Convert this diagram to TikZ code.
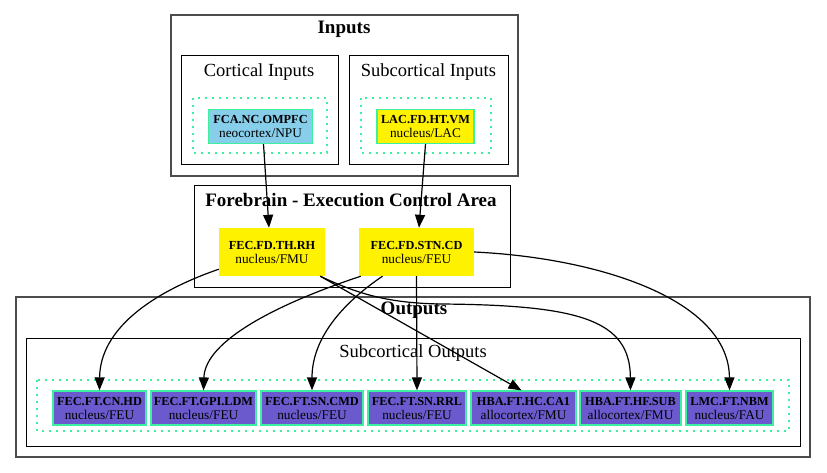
\documentclass[tikz,border=0pt]{standalone}
\usepackage{fontspec}
\setmainfont{Liberation Serif}
\usetikzlibrary{arrows.meta}
\definecolor{skyblu}{HTML}{87CEEB}
\definecolor{slateblu}{HTML}{6A5ACD}
\definecolor{springgr}{HTML}{3CF0A0}
\newcommand{\clustfont}{\fontsize{18.5}{22}\selectfont}
\newcommand{\nodefont}{\fontsize{13.3}{14}\selectfont}
\newcommand{\nodehead}[1]{{\fontsize{12.3}{14}\selectfont\bfseries #1}}
\tikzset{
  cluster/.style={draw=black,line width=1pt},
  outercluster/.style={draw=black!70,line width=1.6pt},
  dotbox/.style={draw=springgr,line width=1.3pt,dash pattern=on 2pt off 5pt},
  clustertitle/.style={font=\fontsize{19}{22}\selectfont\bfseries,inner sep=0pt},
  clusterlabel/.style={font=\clustfont,inner sep=0pt},
  region/.style={draw=springgr,line width=1.2pt,align=center,font=\nodefont,inner sep=0pt,minimum height=34pt},
  area/.style={fill=yellow,align=center,font=\nodefont,inner sep=0pt,minimum height=48pt},
  conn/.style={-{Triangle[length=13pt,width=10pt]},line width=1.2pt}
}

\begin{document}
\begin{tikzpicture}[x=1pt,y=-1pt]
\useasboundingbox (0,0) rectangle (827,473);
\draw[outercluster] (171,15) rectangle (518,176);
\node[clustertitle] (inputs) at (344,29) {Inputs};
\draw[cluster] (181,56) rectangle (338,165);
\node[clusterlabel] (cortin) at (259,72) {Cortical Inputs};
\draw[cluster] (349,56) rectangle (508,165);
\node[clusterlabel] (subcortin) at (428.5,72) {Subcortical Inputs};
\draw[dotbox] (193,98) rectangle (327,153);
\draw[dotbox] (361,98) rectangle (491,153);
\node[region,fill=skyblu,minimum width=104pt] (fca) at (260.5,126.5) {\nodehead{FCA.NC.OMPFC}\\neocortex/NPU};
\node[region,fill=yellow,minimum width=97pt] (lac) at (425.5,126.5) {\nodehead{LAC.FD.HT.VM}\\nucleus/LAC};
\draw[cluster] (194,186) rectangle (510,287);
\node[clustertitle] (forebrain) at (351,200) {Forebrain - Execution Control Area};
\node[area,minimum width=106pt] (thrh) at (272,252) {\nodehead{FEC.FD.TH.RH}\\nucleus/FMU};
\node[area,minimum width=115pt] (stncd) at (416.5,252) {\nodehead{FEC.FD.STN.CD}\\nucleus/FEU};
\draw[outercluster] (16,297) rectangle (810,457);
\node[clustertitle] (outputs) at (414,310) {Outputs};
\draw[cluster] (26,338) rectangle (800,446);
\node[clusterlabel] (subcortout) at (413,353) {Subcortical Outputs};
\draw[dotbox] (37,380) rectangle (789,431);
\node[region,fill=slateblu,minimum width=93pt] (cnhd) at (99.5,408) {\nodehead{FEC.FT.CN.HD}\\nucleus/FEU};
\node[region,fill=slateblu,minimum width=105pt] (gpildm) at (203.5,408) {\nodehead{FEC.FT.GPI.LDM}\\nucleus/FEU};
\node[region,fill=slateblu,minimum width=102pt] (sncmd) at (312,408) {\nodehead{FEC.FT.SN.CMD}\\nucleus/FEU};
\node[region,fill=slateblu,minimum width=98pt] (snrrl) at (417,408) {\nodehead{FEC.FT.SN.RRL}\\nucleus/FEU};
\node[region,fill=slateblu,minimum width=105pt] (hcca1) at (523.5,408) {\nodehead{HBA.FT.HC.CA1}\\allocortex/FMU};
\node[region,fill=slateblu,minimum width=101pt] (hfsub) at (630.5,408) {\nodehead{HBA.FT.HF.SUB}\\allocortex/FMU};
\node[region,fill=slateblu,minimum width=87pt] (nbm) at (729.5,408) {\nodehead{LMC.FT.NBM}\\nucleus/FAU};
\draw[conn] ([xshift=3pt]fca.south) -- ([xshift=-3pt]thrh.north);
\draw[conn] (lac.south) -- ([xshift=2.5pt]stncd.north);
\draw[conn] ([yshift=7pt]thrh.south west) .. controls (150,293) and (100,330) .. (cnhd.north);
\draw[conn] ([xshift=-5pt]thrh.south east) -- ([xshift=-2pt]hcca1.north);
\draw[conn] ([xshift=-5pt]thrh.south east) .. controls (360,295) and (390,303) .. (440,304) .. controls (580,305) and (630,320) .. (hfsub.north);
\draw[conn] ([xshift=2pt]stncd.south west) .. controls (280,303) and (205,340) .. (gpildm.north);
\draw[conn] ([xshift=-34pt]stncd.south) .. controls (340,305) and (312,340) .. (sncmd.north);
\draw[conn] (stncd.south) -- (snrrl.north);
\draw[conn] (stncd.east) .. controls (600,258) and (729,300) .. (nbm.north);
\end{tikzpicture}
\end{document}
